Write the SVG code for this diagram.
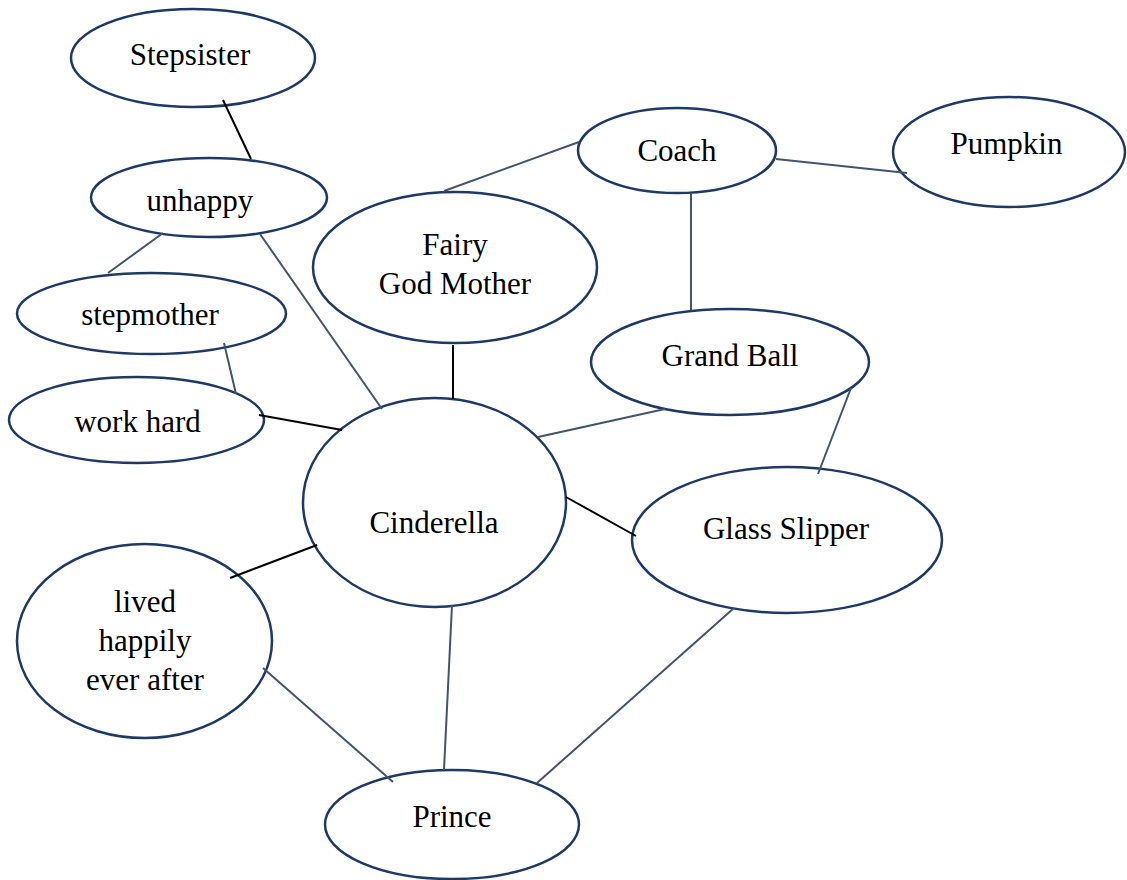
<svg xmlns="http://www.w3.org/2000/svg" width="1127" height="880" viewBox="0 0 1127 880">
<style>
.n ellipse{fill:#fff;stroke:#1f3864;stroke-width:2.5}
.n text{font-family:"Liberation Serif","Times New Roman",serif;font-size:31px;fill:#000;text-anchor:middle}
.c line{stroke-width:2}
.s{stroke:#44546a}
.b{stroke:#000}
</style>
<rect width="1127" height="880" fill="#fff"/>
<g id="stepsister" class="n"><ellipse cx="193" cy="58" rx="122" ry="49"/><text x="190" y="65">Stepsister</text></g>
<g id="unhappy" class="n"><ellipse cx="209" cy="197.5" rx="118" ry="39.5"/><text x="200" y="211">unhappy</text></g>
<g id="stepmother" class="n"><ellipse cx="151.5" cy="313.5" rx="134.5" ry="40.5"/><text x="150" y="325">stepmother</text></g>
<g id="workhard" class="n"><ellipse cx="136.5" cy="420" rx="127.5" ry="43"/><text x="137.5" y="432">work hard</text></g>
<g id="fairy" class="n"><ellipse cx="455" cy="267.5" rx="142" ry="75.5"/><text x="455" y="255">Fairy</text><text x="455" y="294">God Mother</text></g>
<g id="coach" class="n"><ellipse cx="677" cy="150.5" rx="99" ry="42.5"/><text x="677" y="161">Coach</text></g>
<g id="pumpkin" class="n"><ellipse cx="1009" cy="152" rx="116" ry="55"/><text x="1006.5" y="154">Pumpkin</text></g>
<g id="grandball" class="n"><ellipse cx="730" cy="362" rx="139" ry="53"/><text x="730" y="366">Grand Ball</text></g>
<g id="cinderella" class="n"><ellipse cx="434.5" cy="502.5" rx="131.5" ry="104.5"/><text x="434" y="533">Cinderella</text></g>
<g id="glassslipper" class="n"><ellipse cx="787" cy="540" rx="155" ry="73"/><text x="786" y="539">Glass Slipper</text></g>
<g id="lived" class="n"><ellipse cx="144.5" cy="641" rx="127.5" ry="97"/><text x="145" y="612">lived</text><text x="145" y="651">happily</text><text x="145" y="690">ever after</text></g>
<g id="prince" class="n"><ellipse cx="452" cy="824.5" rx="127" ry="54.5"/><text x="452" y="827">Prince</text></g>
<g id="connectors" class="c">
<line class="b" x1="223" y1="100" x2="251" y2="159"/>
<line class="s" x1="163" y1="233" x2="108" y2="273"/>
<line class="s" x1="260" y1="234" x2="382" y2="409"/>
<line class="s" x1="224" y1="343" x2="236" y2="394"/>
<line class="b" x1="259" y1="415" x2="342" y2="430"/>
<line class="b" x1="453" y1="345" x2="453" y2="399"/>
<line class="s" x1="444" y1="191" x2="579" y2="142"/>
<line class="s" x1="776" y1="159" x2="907" y2="173"/>
<line class="s" x1="691" y1="193" x2="691" y2="310"/>
<line class="s" x1="665" y1="409" x2="538" y2="437"/>
<line class="s" x1="851" y1="388" x2="818" y2="474"/>
<line class="b" x1="566" y1="497" x2="636" y2="536"/>
<line class="b" x1="317" y1="545" x2="230" y2="578"/>
<line class="s" x1="452" y1="605" x2="444" y2="770"/>
<line class="s" x1="734" y1="608" x2="537" y2="783"/>
<line class="s" x1="263" y1="668" x2="393" y2="782"/>
</g>
</svg>
